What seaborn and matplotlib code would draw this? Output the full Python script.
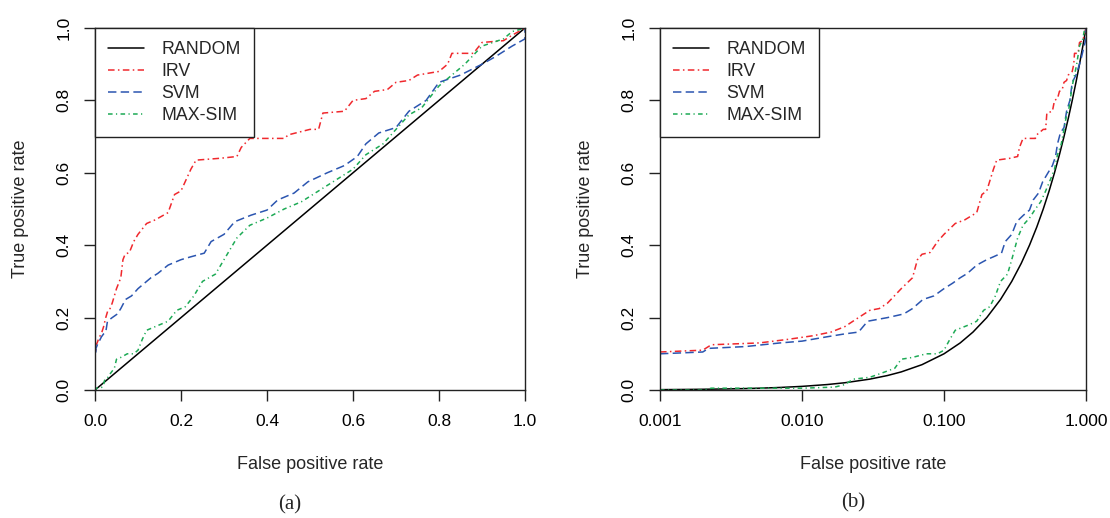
import pandas as pd
import matplotlib.pyplot as plt
import matplotlib.ticker as mticker
import seaborn as sns

# ROC curves (same data in both panels)
random_fpr = [0, 0.001, 0.0015, 0.002, 0.003, 0.004, 0.005, 0.007, 0.01, 0.015, 0.02,
              0.03, 0.04, 0.05, 0.07, 0.1, 0.13, 0.16, 0.2, 0.25, 0.3, 0.35, 0.4, 0.45,
              0.5, 0.55, 0.6, 0.65, 0.7, 0.75, 0.8, 0.85, 0.9, 0.95, 1.0]
random_tpr = list(random_fpr)

irv_fpr = [0, 0, 0.001, 0.002, 0.0023, 0.005, 0.008, 0.012, 0.016, 0.02, 0.025, 0.03,
           0.035, 0.04, 0.05, 0.06, 0.065, 0.07, 0.08, 0.09, 0.1, 0.12, 0.14, 0.17,
           0.185, 0.2, 0.223, 0.235, 0.29, 0.33, 0.34, 0.36, 0.44, 0.45, 0.5, 0.52,
           0.53, 0.58, 0.6, 0.63, 0.65, 0.68, 0.7, 0.73, 0.75, 0.8, 0.82, 0.83, 0.88,
           0.9, 0.95, 0.97, 1.0]
irv_tpr = [0, 0.10, 0.105, 0.11, 0.125, 0.13, 0.14, 0.15, 0.16, 0.175, 0.2, 0.22,
           0.225, 0.24, 0.28, 0.31, 0.36, 0.375, 0.38, 0.41, 0.43, 0.46, 0.47, 0.49,
           0.54, 0.55, 0.61, 0.635, 0.64, 0.645, 0.67, 0.695, 0.695, 0.705, 0.72,
           0.72, 0.765, 0.77, 0.8, 0.805, 0.825, 0.83, 0.85, 0.855, 0.87, 0.88, 0.9,
           0.93, 0.93, 0.96, 0.965, 0.98, 1.0]

svm_fpr = [0, 0, 0.001, 0.002, 0.0022, 0.004, 0.007, 0.01, 0.015, 0.02, 0.025, 0.029,
           0.04, 0.052, 0.06, 0.071, 0.085, 0.1, 0.115, 0.13, 0.146, 0.17, 0.2, 0.223,
           0.254, 0.27, 0.3, 0.325, 0.363, 0.4, 0.425, 0.463, 0.495, 0.54, 0.58, 0.61,
           0.63, 0.66, 0.7, 0.73, 0.77, 0.8, 0.85, 0.9, 0.93, 0.97, 1.0, 1.0]
svm_tpr = [0, 0.10, 0.10, 0.105, 0.115, 0.12, 0.13, 0.135, 0.147, 0.155, 0.16, 0.19,
           0.2, 0.21, 0.225, 0.25, 0.26, 0.28, 0.295, 0.31, 0.322, 0.345, 0.36, 0.368,
           0.378, 0.41, 0.43, 0.465, 0.483, 0.497, 0.525, 0.544, 0.575, 0.6, 0.62,
           0.645, 0.68, 0.71, 0.725, 0.77, 0.8, 0.85, 0.87, 0.9, 0.92, 0.95, 0.97, 1.0]

maxsim_fpr = [0, 0.001, 0.002, 0.0023, 0.005, 0.01, 0.017, 0.02, 0.023, 0.03, 0.036,
              0.045, 0.05, 0.06, 0.075, 0.09, 0.1, 0.11, 0.12, 0.15, 0.17, 0.19, 0.21,
              0.23, 0.25, 0.28, 0.3, 0.33, 0.36, 0.4, 0.44, 0.48, 0.52, 0.56, 0.6,
              0.63, 0.67, 0.7, 0.73, 0.76, 0.8, 0.83, 0.86, 0.9, 0.95, 0.97, 1.0]
maxsim_tpr = [0, 0, 0, 0.005, 0.005, 0.005, 0.008, 0.015, 0.03, 0.035, 0.046, 0.06,
              0.085, 0.09, 0.1, 0.1, 0.11, 0.14, 0.165, 0.18, 0.19, 0.22, 0.23, 0.26,
              0.3, 0.32, 0.36, 0.42, 0.455, 0.475, 0.5, 0.52, 0.55, 0.58, 0.61, 0.65,
              0.68, 0.72, 0.76, 0.78, 0.84, 0.87, 0.9, 0.95, 0.97, 0.99, 1.0]

models = ["RANDOM", "IRV", "SVM", "MAX-SIM"]
curves = {
    "RANDOM": (random_fpr, random_tpr),
    "IRV": (irv_fpr, irv_tpr),
    "SVM": (svm_fpr, svm_tpr),
    "MAX-SIM": (maxsim_fpr, maxsim_tpr),
}
colors = {"RANDOM": "black", "IRV": "#F0282D", "SVM": "#2B55B0", "MAX-SIM": "#1DAA55"}
styles = {"RANDOM": "-", "IRV": (0, (4.3, 2.2, 1, 2.2)), "SVM": (0, (5.5, 2.8)),
          "MAX-SIM": (0, (3, 2.2, 0.8, 2.2))}

sns.set_style("ticks")
plt.rcParams["font.family"] = ["Liberation Sans", "DejaVu Sans"]

fig = plt.figure(figsize=(11.1, 5.18), dpi=100)
ax1 = fig.add_axes([95 / 1110, 128 / 518, 430 / 1110, 362 / 518])
ax2 = fig.add_axes([660 / 1110, 128 / 518, 426 / 1110, 362 / 518])

for ax, logx in [(ax1, False), (ax2, True)]:
    for m in models:
        df = pd.DataFrame({"fpr": curves[m][0], "tpr": curves[m][1]})
        if logx:
            df = df[df["fpr"] > 0]
        sns.lineplot(data=df, x="fpr", y="tpr", ax=ax, estimator=None, sort=False,
                     color=colors[m], linestyle=styles[m], lw=1.1, label=m)
    if logx:
        ax.set_xscale("log")
        ax.set_xlim(0.001, 1.0)
        ax.set_xticks([0.001, 0.01, 0.1, 1.0])
        ax.xaxis.set_major_formatter(mticker.FormatStrFormatter("%.3f"))
        ax.xaxis.set_minor_locator(mticker.NullLocator())
    else:
        ax.set_xlim(0, 1)
        ax.set_xticks([0, 0.2, 0.4, 0.6, 0.8, 1.0])
        ax.xaxis.set_major_formatter(mticker.FormatStrFormatter("%.1f"))
    ax.set_ylim(0, 1)
    ax.set_yticks([0, 0.2, 0.4, 0.6, 0.8, 1.0])
    ax.yaxis.set_major_formatter(mticker.FormatStrFormatter("%.1f"))
    for s in ax.spines.values():
        s.set_visible(True)
        s.set_color("#222222")
        s.set_linewidth(1.0)
    ax.tick_params(axis="both", direction="out", length=8, width=1.0,
                   colors="#222222", labelsize=12.5, labelcolor="black")
    ax.tick_params(axis="x", pad=9)
    ax.tick_params(axis="y", pad=9, labelrotation=90)
    for lab in ax.get_yticklabels():
        lab.set_va("center")
    ax.set_xlabel("False positive rate", fontsize=13, labelpad=20)
    ax.set_ylabel("True positive rate", fontsize=13, labelpad=20)
    leg = ax.legend(loc="upper left", bbox_to_anchor=(0, 1), borderaxespad=0,
                    fontsize=12.8, frameon=True, fancybox=False, framealpha=1,
                    edgecolor="#222222", borderpad=0.75, labelspacing=0.27,
                    handlelength=2.0, handletextpad=1.0)
    leg.get_frame().set_linewidth(1.0)

fig.text(290 / 1110, 1 - 505 / 518, "(a)", ha="center", va="center",
         fontsize=15, family=["Liberation Serif", "DejaVu Serif"])
fig.text(853 / 1110, 1 - 503 / 518, "(b)", ha="center", va="center",
         fontsize=15, family=["Liberation Serif", "DejaVu Serif"])

fig.savefig("out.png", dpi=100)
plt.close(fig)
